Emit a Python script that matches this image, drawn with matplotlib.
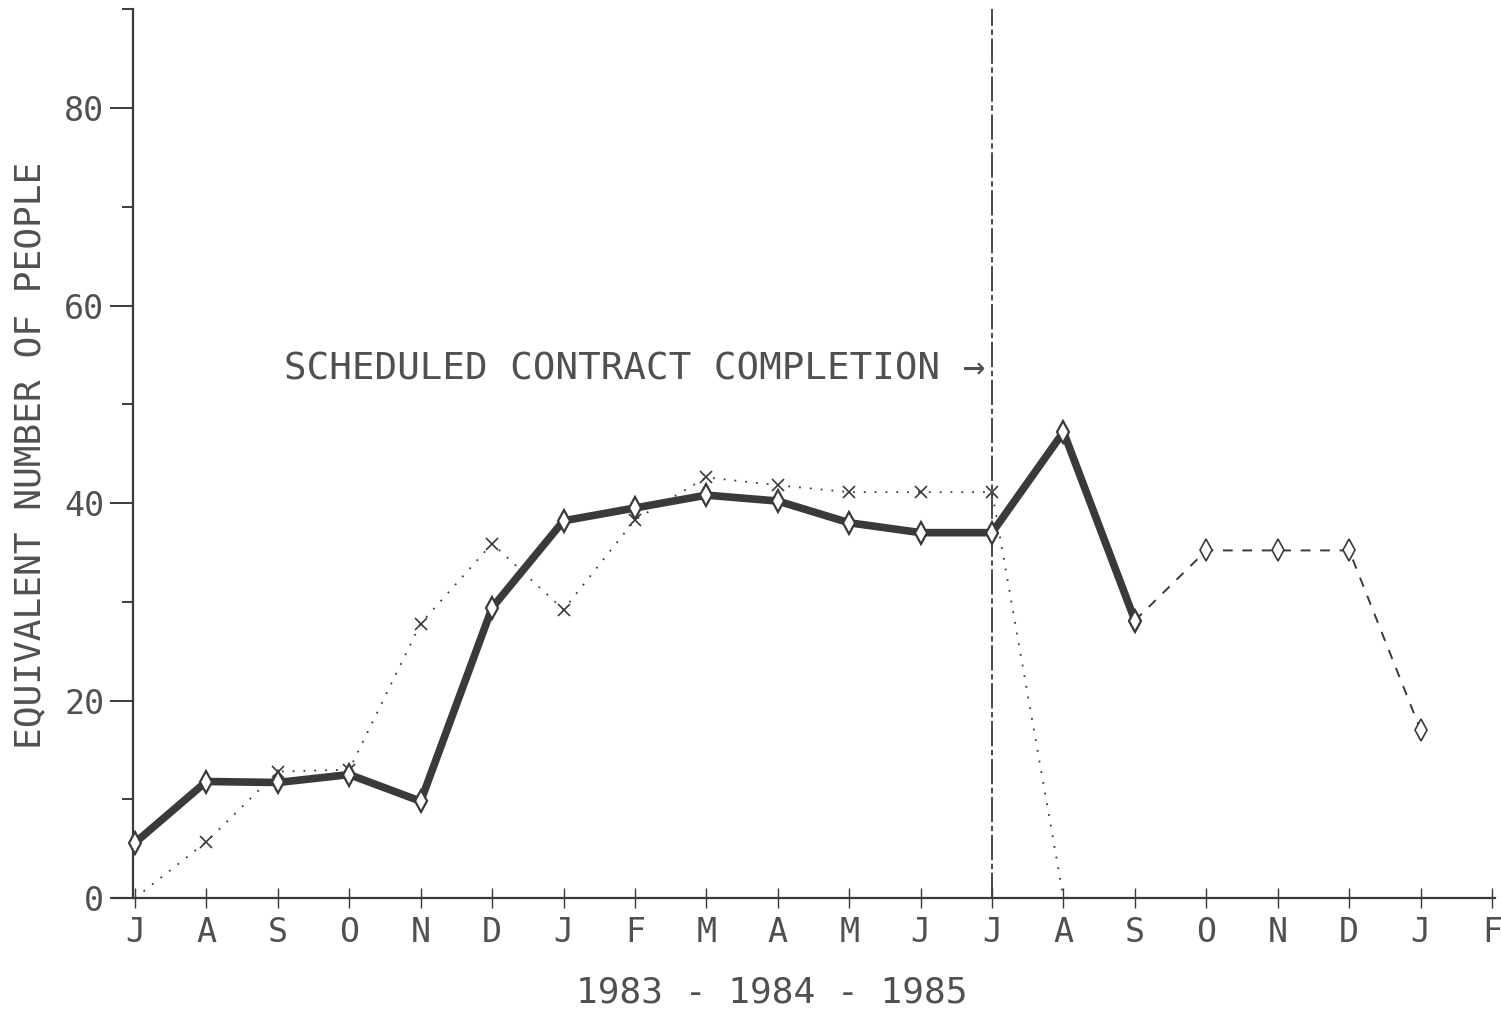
import numpy as np
import matplotlib
matplotlib.use("Agg")
import matplotlib.pyplot as plt

months = ['J', 'A', 'S', 'O', 'N', 'D', 'J', 'F', 'M', 'A', 'M', 'J',
          'J', 'A', 'S', 'O', 'N', 'D', 'J', 'F']

# actual manning (heavy line)
actual_x = [0, 1, 2, 3, 4, 5, 6, 7, 8, 9, 10, 11, 12, 13, 14]
actual_y = [5.6, 11.8, 11.7, 12.5, 9.8, 29.4, 38.2, 39.5, 40.8, 40.2, 38.0, 37.0, 37.0, 47.2, 28.1]

# planned manning (dotted line)
plan_x = [0, 1, 2, 3, 4, 5, 6, 7, 8, 9, 10, 11, 12, 13]
plan_y = [0, 5.7, 12.8, 13.0, 27.8, 35.9, 29.2, 38.3, 42.6, 41.8, 41.1, 41.1, 41.1, 0]

# projected manning (dashed line)
proj_x = [14, 15, 16, 17, 18]
proj_y = [28.1, 35.2, 35.2, 35.2, 17.0]

completion_x = 12

ink = '#3a3a3a'
txt = '#505050'
mono = 'DejaVu Sans Mono'

fig = plt.figure(figsize=[15.01, 10.10], dpi=100)
ax = fig.add_axes([0.0614, 0.0522, 0.9469, 0.9435])
ax.set_xlim(-0.6, 19.3)
ax.set_ylim(-6, 90.5)

for side in ['top', 'right']:
    ax.spines[side].set_visible(False)
ax.spines['left'].set_position(('data', -0.03))
ax.spines['bottom'].set_position(('data', 0))
ax.spines['left'].set_bounds(0, 90)
ax.spines['bottom'].set_bounds(-0.31, 19.04)
for side in ['left', 'bottom']:
    ax.spines[side].set_color(ink)
    ax.spines[side].set_linewidth(1.6)

ax.set_xticks(range(len(months)))
ax.set_xticklabels(months)
ax.set_yticks([0, 20, 40, 60, 80])
ax.set_yticks([10, 30, 50, 70, 90], minor=True)
ax.tick_params(axis='x', direction='inout', length=14, width=1.0, color=ink,
               pad=6, labelsize=24, labelcolor=txt)
ax.tick_params(axis='y', which='major', direction='out', length=16.5, width=1.4,
               color=ink, pad=4, labelsize=24, labelcolor=txt)
ax.tick_params(axis='y', which='minor', direction='out', length=8, width=1.4, color=ink)
for lab in ax.get_xticklabels() + ax.get_yticklabels():
    lab.set_family(mono)

ax.set_ylabel('EQUIVALENT NUMBER OF PEOPLE', family=mono, fontsize=26,
              color=txt, va='center', ha='center')
ax.yaxis.set_label_coords(-0.0436, 0.527)
ax.set_xlabel('1983 - 1984 - 1985', family=mono, fontsize=26, color=txt,
              va='center', ha='center')
ax.xaxis.set_label_coords(0.478, -0.0367)

# scheduled completion marker
ax.plot([completion_x, completion_x], [0, 90], color=ink, linewidth=1.3,
        linestyle=(0, (14, 2, 3, 2)))
ax.text(completion_x - 0.1, 53.5, 'SCHEDULED CONTRACT COMPLETION →', family=mono,
        fontsize=27, color=txt, ha='right', va='center')

# planned line: markers only on the interior points
ax.plot(plan_x, plan_y, color=ink, linewidth=1.3, linestyle=(0, (1, 5)),
        marker='x', markersize=8, markeredgewidth=1.2, markevery=slice(1, -1), zorder=2)
ax.plot(proj_x, proj_y, color=ink, linewidth=1.4, linestyle=(0, (5, 5)),
        marker='d', markersize=11, markerfacecolor='white', markeredgewidth=1.2, zorder=2)
ax.plot(actual_x, actual_y, color=ink, linewidth=5.5, solid_joinstyle='round',
        solid_capstyle='round', marker='d', markersize=11, markerfacecolor='white',
        markeredgewidth=1.6, zorder=3)

fig.savefig('out.png', dpi=100)
